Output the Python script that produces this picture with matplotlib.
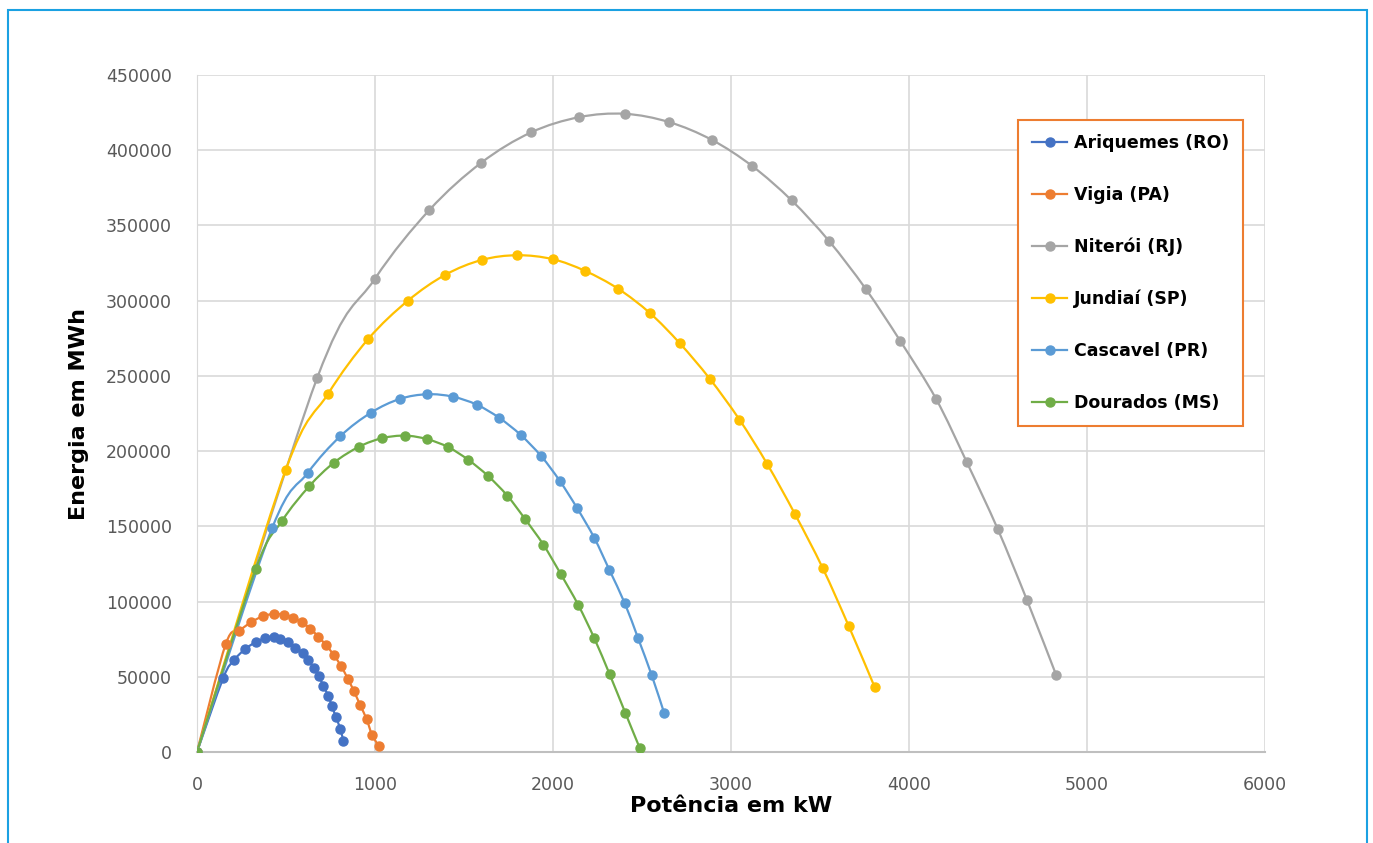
import matplotlib
matplotlib.use("Agg")
import matplotlib.pyplot as plt
from matplotlib.patches import Rectangle, PathPatch
from matplotlib.path import Path
from matplotlib.lines import Line2D

# Potência (kW) x Energia (MWh)
ari_x = [0, 148, 208, 271, 331, 382, 433, 468, 511, 552, 594, 622, 656, 685, 710, 738, 758, 781, 805, 822]
ari_y = [0, 49400, 61000, 68500, 73100, 75600, 76300, 75100, 72900, 69300, 65800, 61200, 56100, 50300,
         43900, 37200, 30400, 23100, 15300, 7500]

vig_x = [0, 161, 238, 303, 369, 431, 487, 539, 590, 637, 681, 726, 768, 809, 848, 882, 917, 953, 983, 1021]
vig_y = [0, 71600, 80500, 86200, 90200, 91800, 91300, 89300, 86200, 82000, 76700, 70900, 64500, 57200,
         48500, 40400, 31100, 21800, 11500, 4000]

nit_x = [0, 676, 998, 1305, 1596, 1876, 2148, 2403, 2652, 2892, 3120, 3341, 3551, 3757, 3951, 4152,
         4324, 4498, 4663, 4826]
nit_y = [0, 248900, 314300, 360200, 391600, 411800, 422000, 424200, 418700, 406900, 389400, 366600,
         339600, 307800, 273200, 234700, 192800, 148300, 100900, 51400]

jun_x = [0, 498, 736, 961, 1184, 1395, 1601, 1800, 1998, 2180, 2365, 2545, 2712, 2880, 3047, 3204,
         3360, 3515, 3661, 3807]
jun_y = [0, 187500, 238000, 274400, 299900, 317200, 327100, 330200, 327600, 319800, 308000, 291700,
         271700, 248200, 221000, 191300, 158000, 122300, 83800, 43200]

cas_x = [0, 423, 622, 805, 978, 1140, 1294, 1436, 1571, 1698, 1818, 1934, 2037, 2135, 2232, 2316,
         2403, 2478, 2554, 2625]
cas_y = [0, 149100, 185500, 209900, 225600, 234700, 237800, 236200, 230900, 222100, 210800, 196600,
         180400, 162200, 142300, 121200, 98900, 75600, 51200, 25700]

dou_x = [0, 330, 479, 631, 770, 912, 1041, 1170, 1294, 1412, 1524, 1635, 1743, 1844, 1946, 2043,
         2142, 2232, 2318, 2406, 2487]
dou_y = [0, 121700, 153800, 176700, 192400, 203000, 208600, 210300, 207900, 202600, 194200, 183500,
         170400, 154700, 137800, 118400, 97700, 75600, 51700, 26100, 2700]

series = [
    ("Ariquemes (RO)", ari_x, ari_y, "#4472c4"),
    ("Vigia (PA)", vig_x, vig_y, "#ed7d31"),
    ("Niterói (RJ)", nit_x, nit_y, "#a5a5a5"),
    ("Jundiaí (SP)", jun_x, jun_y, "#ffc000"),
    ("Cascavel (PR)", cas_x, cas_y, "#5b9bd5"),
    ("Dourados (MS)", dou_x, dou_y, "#70ad47"),
]


def smooth_path(xs, ys):
    # Excel-style smoothed line: bezier segments through the points
    pts = list(zip(xs, ys))
    n = len(pts)
    verts = [pts[0]]
    codes = [Path.MOVETO]
    for i in range(n - 1):
        p0 = pts[max(i - 1, 0)]
        p1 = pts[i]
        p2 = pts[i + 1]
        p3 = pts[min(i + 2, n - 1)]
        c1 = (p1[0] + (p2[0] - p0[0]) / 6, p1[1] + (p2[1] - p0[1]) / 6)
        c2 = (p2[0] - (p3[0] - p1[0]) / 6, p2[1] - (p3[1] - p1[1]) / 6)
        verts += [c1, c2, p2]
        codes += [Path.CURVE4] * 3
    return Path(verts, codes)


fig = plt.figure(figsize=(13.73, 8.43), dpi=100)
ax = fig.add_axes([197 / 1373, 1 - 752 / 843, 1068 / 1373, 677 / 843])

handles = []
for name, xs, ys, col in series:
    ax.add_patch(PathPatch(smooth_path(xs, ys), fill=False, edgecolor=col, lw=1.6, zorder=3))
    ax.plot(xs, ys, ls="none", marker="o", ms=6.5, color=col, zorder=4)
    handles.append(Line2D([], [], color=col, lw=1.6, marker="o", ms=6.5, label=name))

ax.set_xlim(0, 6000)
ax.set_ylim(0, 450000)
ax.set_xticks(range(0, 6001, 1000))
ax.set_yticks(range(0, 450001, 50000))
ax.grid(True, color="#d9d9d9", lw=1.2)
ax.set_axisbelow(True)
for s in ["top", "right"]:
    ax.spines[s].set_visible(False)
ax.spines["left"].set_color("#d9d9d9")
ax.spines["bottom"].set_color("#bfbfbf")
ax.spines["bottom"].set_linewidth(1.5)
ax.tick_params(length=0, labelsize=12.5, labelcolor="#595959")
ax.tick_params(axis="y", pad=18)
ax.tick_params(axis="x", pad=17)

ax.set_xlabel("Potência em kW", fontsize=16, fontweight="bold", labelpad=2)
ax.set_ylabel("Energia em MWh", fontsize=16, fontweight="bold", labelpad=12)

leg = ax.legend(handles=handles, loc="upper left", bbox_to_anchor=(0.769, 0.9335),
                borderaxespad=0, prop={"weight": "bold", "size": 12.5}, labelspacing=1.95,
                handlelength=2.0, handletextpad=0.4, borderpad=0.8, fancybox=False, framealpha=1)
leg.get_frame().set_edgecolor("#ed7d31")
leg.get_frame().set_linewidth(1.5)

# blue frame around the chart
fig.patches.append(Rectangle((8 / 1373, -0.02), (1367 - 8) / 1373, 0.02 + 1 - 10 / 843,
                             transform=fig.transFigure, fill=False, edgecolor="#1ba1e2", lw=1.5))

fig.savefig("out.png", dpi=100)
